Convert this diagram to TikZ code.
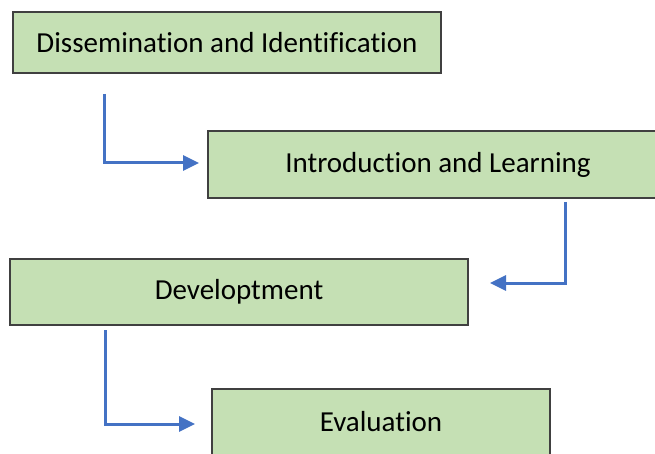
\documentclass[tikz,border=0pt]{standalone}
\usepackage{fontspec}
\setmainfont[RawFeature={-liga;-clig;-calt;-dlig}]{Carlito}
\usetikzlibrary{arrows.meta}
\definecolor{boxfill}{HTML}{C5E0B4}
\definecolor{boxline}{HTML}{404040}
\definecolor{arrowblue}{HTML}{4472C4}
\tikzset{
  stagebox/.style={draw=boxline, line width=1.3pt, fill=boxfill, rectangle, inner sep=0pt,
    font=\fontsize{29}{34}\selectfont, text=black},
  flowarrow/.style={draw=arrowblue, line width=3pt, -{Triangle[length=16pt,width=15pt]}}
}
\begin{document}
\begin{tikzpicture}[x=1pt,y=-1pt]
\clip (0,0) rectangle (655,454);
\fill[white] (0,0) rectangle (655,454);
\node[stagebox, minimum width=428pt, minimum height=61pt] (b1) at (227,42.5) {Dissemination and Identification};
\node[stagebox, minimum width=460pt, minimum height=67pt] (b2) at (438,164.5) {Introduction and Learning};
\node[stagebox, minimum width=458pt, minimum height=66pt] (b3) at (239,292) {Developtment};
\node[stagebox, minimum width=338pt, minimum height=66pt] (b4) at (381,422) {Evaluation};
\coordinate (s1) at (104,94);
\coordinate (c1) at (104,163);
\coordinate (e1) at (199,163);
\coordinate (s2) at (565,202);
\coordinate (c2) at (565,283);
\coordinate (e2) at (490,283);
\coordinate (s3) at (105,330);
\coordinate (c3) at (105,424);
\coordinate (e3) at (195,424);
\draw[flowarrow] (s1) -- (c1) -- (e1);
\draw[flowarrow] (s2) -- (c2) -- (e2);
\draw[flowarrow] (s3) -- (c3) -- (e3);
\end{tikzpicture}
\end{document}
